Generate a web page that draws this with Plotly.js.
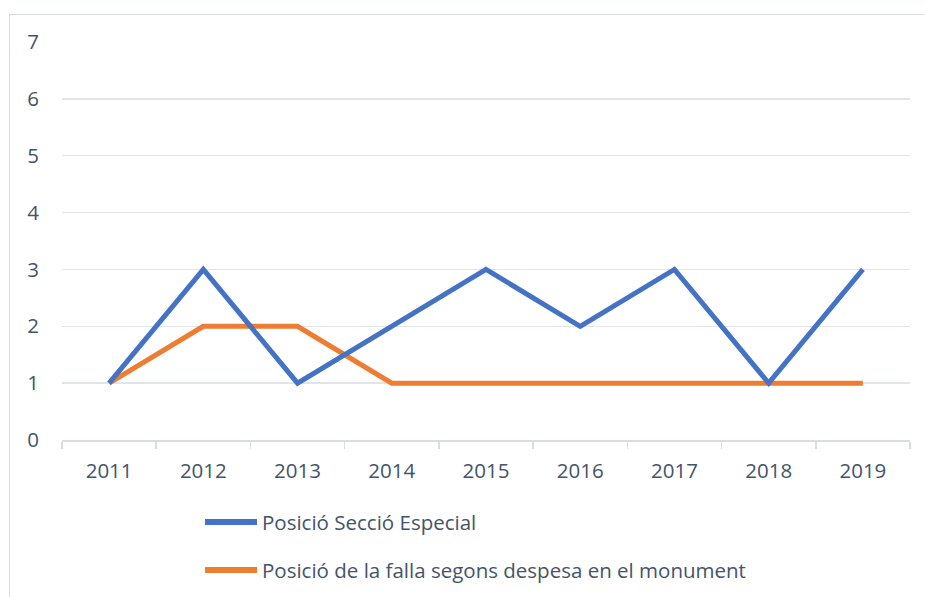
<!DOCTYPE html>
<html>
<head>
<meta charset="utf-8">
<script src="https://cdn.plot.ly/plotly-3.0.1.min.js"></script>
<style>
  html, body { margin: 0; padding: 0; background: #ffffff; }
  #wrap { position: relative; width: 925px; height: 597px; overflow: hidden; }
  #chart { position: absolute; left: 0; top: 0; width: 925px; height: 597px; }
  #frame { position: absolute; left: 9px; top: 14px; width: 940px; height: 600px;
           border: 1px solid #d9dde3; pointer-events: none; box-sizing: border-box; }
</style>
</head>
<body>
<div id="wrap">
  <div id="chart"></div>
  <div id="frame"></div>
</div>
<script>
const years = ['2011','2012','2013','2014','2015','2016','2017','2018','2019'];
const seccioEspecial = [1, 3, 1, 2, 3, 2, 3, 1, 3];
const despesaMonument = [1, 2, 2, 1, 1, 1, 1, 1, 1];
const seriesNames = ['Posició Secció Especial', 'Posició de la falla segons despesa en el monument'];
const yTicks = [0, 1, 2, 3, 4, 5, 6, 7];

const textColor = '#44546a';
const font = { family: '"Open Sans", "Noto Sans", sans-serif', size: 20.5, color: textColor };

const traces = [
  { x: years, y: despesaMonument, type: 'scatter', mode: 'lines', name: seriesNames[1],
    line: { color: '#ed7d31', width: 5 }, showlegend: false, hoverinfo: 'skip' },
  { x: years, y: seccioEspecial, type: 'scatter', mode: 'lines', name: seriesNames[0],
    line: { color: '#4472c4', width: 5 }, showlegend: false, hoverinfo: 'skip' }
];

// legend drawn manually (paper coords): plot area x 62..910, y 42..440
const W = 848, H = 398;
const px = v => (v - 62) / W;
const py = v => (440 - v) / H;
const legendRows = [
  { name: seriesNames[0], color: '#4472c4', y: 522 },
  { name: seriesNames[1], color: '#ed7d31', y: 570 }
];
const shapes = legendRows.map(r => ({
  type: 'line', xref: 'paper', yref: 'paper',
  x0: px(205), x1: px(257), y0: py(r.y), y1: py(r.y),
  line: { color: r.color, width: 6 }
}));
const annotations = legendRows.map(r => ({
  xref: 'paper', yref: 'paper', x: px(260), y: py(r.y),
  xanchor: 'left', yanchor: 'middle', showarrow: false,
  text: r.name, font: font
}));

const layout = {
  width: 925, height: 597,
  margin: { l: 62, r: 15, t: 42, b: 157 },
  paper_bgcolor: '#ffffff', plot_bgcolor: '#ffffff',
  font: font,
  showlegend: false,
  xaxis: {
    type: 'category', range: [-0.5, years.length - 0.5],
    tickson: 'boundaries', ticks: 'outside', ticklen: 7,
    tickcolor: '#d9dde3', tickwidth: 1.5,
    showline: true, linecolor: '#d9dde3', linewidth: 1.5,
    showgrid: false, zeroline: false, tickfont: font, ticklabelstandoff: 12,
    fixedrange: true
  },
  yaxis: {
    range: [0, 7], tickvals: yTicks, ticktext: yTicks.map(String),
    showgrid: true, gridcolor: '#e1e4e9', gridwidth: 1.5,
    zeroline: false, showline: false, ticks: '', tickfont: font,
    ticklabelstandoff: 22, fixedrange: true
  },
  shapes: shapes,
  annotations: annotations
};

Plotly.newPlot('chart', traces, layout, { displayModeBar: false, staticPlot: true });
</script>
</body>
</html>
